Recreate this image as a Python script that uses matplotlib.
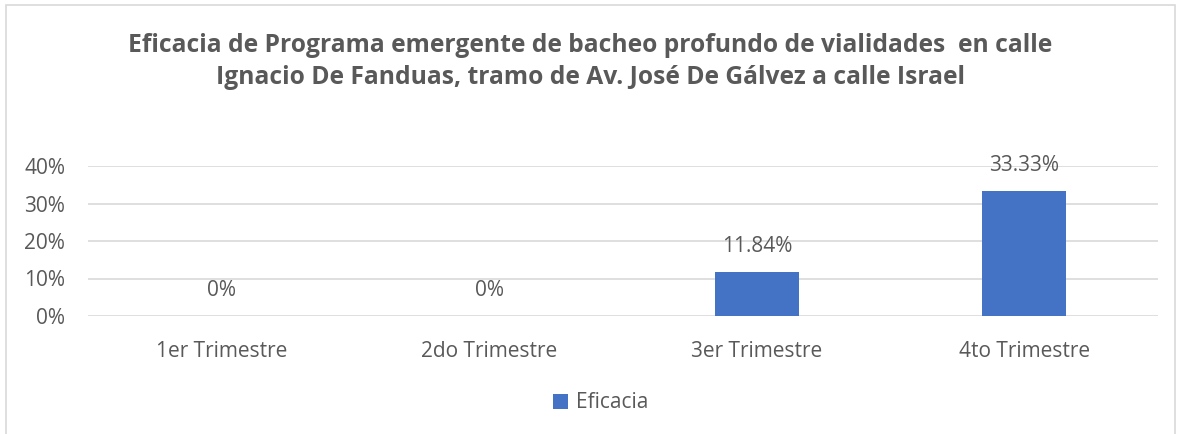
import matplotlib.pyplot as plt
from matplotlib.patches import Rectangle
from matplotlib.ticker import FuncFormatter

# valores por trimestre (porcentaje)
trimestres = ['1er Trimestre', '2do Trimestre', '3er Trimestre', '4to Trimestre']
eficacia = [0, 0, 11.84, 33.33]
etiquetas = ['0%', '0%', '11.84%', '33.33%']

plt.rcParams['font.family'] = ['Open Sans', 'DejaVu Sans']
gris = '#595959'

fig = plt.figure(figsize=(11.8, 4.34), dpi=100)
# marco del área del gráfico
fig.patches.append(Rectangle((6 / 1180, -0.02), 1169 / 1180, 1.02 - 5 / 434, transform=fig.transFigure,
                             fill=False, edgecolor='#d9d9d9', linewidth=1.2))

ax = fig.add_axes([88 / 1180, 1 - 316 / 434, (1158 - 88) / 1180, (316 - 166) / 434])
x = range(len(trimestres))
ax.bar(x, eficacia, width=0.314, color='#4472c4', zorder=3, label='Eficacia')

ax.set_xlim(-0.5, 3.5)
ax.set_ylim(0, 40)
ax.set_yticks([0, 10, 20, 30, 40])
ax.yaxis.set_major_formatter(FuncFormatter(lambda v, p: f'{v:.0f}%'))
ax.set_xticks(list(x))
ax.set_xticklabels(trimestres)
ax.tick_params(length=0, labelsize=15, colors=gris)
ax.tick_params(axis='x', pad=18)
ax.tick_params(axis='y', pad=16.5)
ax.grid(axis='y', color='#d9d9d9', linewidth=1.2, zorder=0)
for s in ax.spines.values():
    s.set_visible(False)

for xi, v, t in zip(x, eficacia, etiquetas):
    ax.annotate(t, (xi, v), xytext=(0, 10.5), textcoords='offset points',
                ha='center', va='bottom', fontsize=15, color=gris)

fig.text(0.5, 1 - 45 / 434, 'Eficacia de Programa emergente de bacheo profundo de vialidades  en calle',
         ha='center', va='center', fontsize=17.7, fontweight='bold', color=gris)
fig.text(0.5, 1 - 78 / 434, 'Ignacio De Fanduas, tramo de Av. José De Gálvez a calle Israel',
         ha='center', va='center', fontsize=17.7, fontweight='bold', color=gris)

fig.legend(loc='center', bbox_to_anchor=(0.5 + 11 / 1180, 1 - 403 / 434), frameon=False,
           fontsize=15, labelcolor=gris, handlelength=0.7, handleheight=0.7, handletextpad=0.4)

fig.savefig('out.png')
